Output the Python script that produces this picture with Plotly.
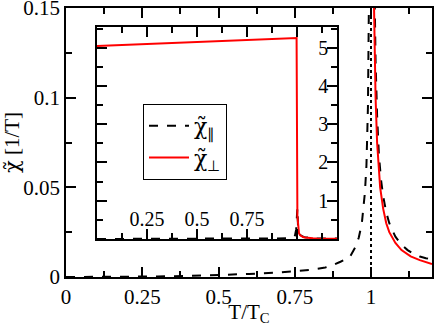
import plotly.graph_objects as go

# critical temperature (reduced units)
TC = 1.0

# parallel susceptibility
T_par = [0, 0.1, 0.2, 0.3, 0.4, 0.5, 0.6, 0.7, 0.8, 0.85, 0.87, 0.9, 0.93, 0.95, 0.96,
         0.97, 0.98, 0.985, 0.99, 0.993, 0.996, 0.998,
         1.002, 1.005, 1.01, 1.015, 1.02, 1.026, 1.033, 1.04, 1.05, 1.06, 1.07, 1.08,
         1.1, 1.12, 1.14, 1.16, 1.18, 1.2]
chi_par = [0, 0.00003, 0.00012, 0.0003, 0.0006, 0.0011, 0.0017, 0.0026, 0.004, 0.0053, 0.0062,
           0.0085, 0.011, 0.017, 0.022, 0.03, 0.047, 0.062, 0.095, 0.15, 0.25, 0.45,
           0.8, 0.36, 0.18, 0.12, 0.09, 0.068, 0.054, 0.045, 0.036, 0.030, 0.026, 0.0225,
           0.018, 0.015, 0.0128, 0.0114, 0.0105, 0.0098]

# perpendicular susceptibility
T_perp = [0, 0.2, 0.4, 0.6, 0.8, 0.99, 0.998,
          1.002, 1.005, 1.01, 1.015, 1.02, 1.03, 1.04, 1.05, 1.06, 1.08, 1.1, 1.13, 1.16, 1.2]
chi_perp = [5.04, 5.08, 5.12, 5.165, 5.205, 5.245, 5.25,
            0.6, 0.3, 0.15, 0.1, 0.075, 0.05, 0.038, 0.030, 0.025, 0.019, 0.015, 0.0115, 0.0094, 0.0072]

main_xticks = [0, 0.25, 0.5, 0.75, 1]
main_yticks = [0, 0.05, 0.1, 0.15]
inset_xticks = [0, 0.25, 0.5, 0.75, 1]
inset_xtext = ["", "0.25", "0.5", "0.75", ""]
inset_yticks = [0, 1, 2, 3, 4, 5]
inset_ytext = ["", "1", "2", "3", "4", "5"]

FONT = "Liberation Serif"
# chi with a tilde on top; DejaVu places the combining mark properly
CHI = '<span style="font-family:DejaVu Serif">χ̃</span>'

fig = go.Figure()

# main panel
fig.add_trace(go.Scatter(x=T_par, y=chi_par, mode="lines", showlegend=False,
                         line=dict(color="black", width=2, dash="dash")))
fig.add_trace(go.Scatter(x=T_perp, y=chi_perp, mode="lines", showlegend=False,
                         line=dict(color="red", width=2)))

# inset
fig.add_trace(go.Scatter(x=T_par, y=chi_par, mode="lines", name=CHI + "<sub>∥</sub>",
                         xaxis="x2", yaxis="y2",
                         line=dict(color="black", width=2, dash="dash")))
fig.add_trace(go.Scatter(x=T_perp, y=chi_perp, mode="lines", name=CHI + "<sub>⊥</sub>",
                         xaxis="x2", yaxis="y2",
                         line=dict(color="red", width=2)))

fig.add_vline(x=TC, line=dict(color="black", width=2, dash="dot"))

axis_common = dict(showline=True, linecolor="black", linewidth=1.5, mirror="allticks",
                   ticks="inside", ticklen=10, tickwidth=1.5, tickcolor="black",
                   showgrid=False, zeroline=False, automargin=False,
                   ticklabeloverflow="allow",
                   tickfont=dict(family=FONT, size=21, color="black"))

minor_style = dict(ticklen=6, tickwidth=1.5, tickcolor="black", ticks="inside")

fig.update_layout(
    width=436, height=326,
    margin=dict(l=66, r=4, t=8, b=49),
    plot_bgcolor="white", paper_bgcolor="white",
    font=dict(family=FONT, size=21, color="black"),
    xaxis=dict(range=[0, 1.2], tickvals=main_xticks,
               minor=dict(dtick=0.125, **minor_style),
               title=dict(text="T/T<sub>C</sub>", font=dict(family=FONT, size=21), standoff=0),
               **axis_common),
    yaxis=dict(range=[0, 0.15], tickvals=main_yticks,
               minor=dict(dtick=0.025, **minor_style),
               title=dict(text=CHI + " [1/T]", font=dict(family=FONT, size=21), standoff=4),
               **axis_common),
    xaxis2=dict(domain=[0.0847, 0.7404], anchor="y2", range=[0, 1.2],
                tickvals=inset_xticks, ticktext=inset_xtext, ticklabelposition="inside",
                minor=dict(dtick=0.125, **minor_style),
                **axis_common),
    yaxis2=dict(domain=[0.1413, 0.9294], anchor="x2", side="right", range=[0, 5.54],
                tickvals=inset_yticks, ticktext=inset_ytext, ticklabelposition="inside",
                minor=dict(dtick=0.5, **minor_style),
                **axis_common),
    legend=dict(x=0.2104, y=0.643, xanchor="left", yanchor="top",
                bgcolor="white", bordercolor="black", borderwidth=1,
                font=dict(family=FONT, size=22), tracegroupgap=0, itemwidth=40),
)
fig.update_yaxes(selector=dict(anchor="x"), tickfont_size=20)
fig.update_xaxes(selector=dict(anchor="y2"), tickfont_size=20)
fig.update_yaxes(selector=dict(anchor="x2"), tickfont_size=20)

# the page body has a default 8px margin; drop it so the figure sits at the corner
fig.write_html("out.html", config={"displayModeBar": False},
               post_script="document.body.style.margin='0px';")
